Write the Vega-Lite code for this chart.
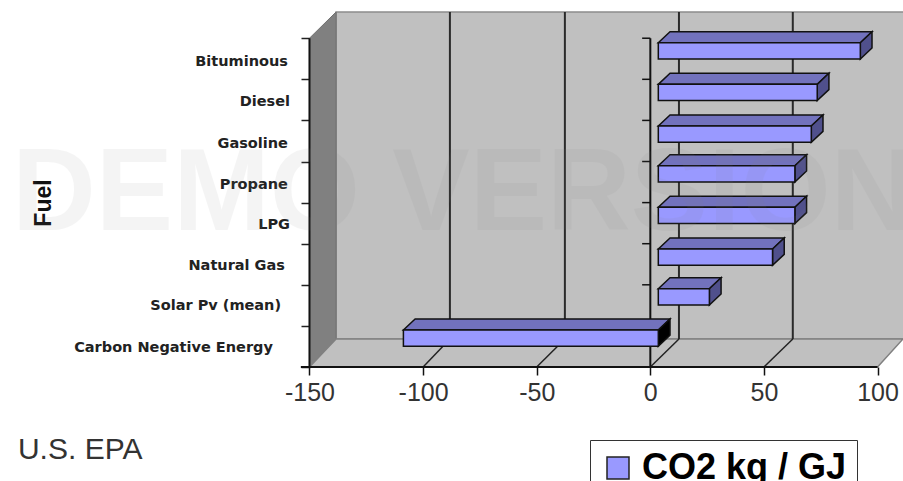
{
"$schema":"https://vega.github.io/schema/vega-lite/v6.json",
"width":903,"height":481,"padding":0,"autosize":{"type":"none"},"background":"white",
"config":{"view":{"stroke":null},"axis":{"grid":false,"title":null}},
"datasets":{
"bars":[
{"fuel":"Bituminous","series":"CO2 kg / GJ","value":88.6,"base":0,"top":7.891,"bottom":7.494},
{"fuel":"Diesel","series":"CO2 kg / GJ","value":69.7,"base":0,"top":6.878,"bottom":6.482},
{"fuel":"Gasoline","series":"CO2 kg / GJ","value":67.1,"base":0,"top":5.864,"bottom":5.467},
{"fuel":"Propane","series":"CO2 kg / GJ","value":59.9,"base":0,"top":4.898,"bottom":4.501},
{"fuel":"LPG","series":"CO2 kg / GJ","value":59.9,"base":0,"top":3.886,"bottom":3.489},
{"fuel":"Natural Gas","series":"CO2 kg / GJ","value":50.1,"base":0,"top":2.871,"bottom":2.474},
{"fuel":"Solar Pv (mean)","series":"CO2 kg / GJ","value":22.4,"base":0,"top":1.905,"bottom":1.509},
{"fuel":"Carbon Negative Energy","series":"CO2 kg / GJ","value":-111.8,"base":0,"top":0.9,"bottom":0.504}
],
"faces":[
{"fuel":"Bituminous","lo":0,"hi":88.6,"top":7.891,"bottom":7.494},
{"fuel":"Bituminous","lo":5.13,"hi":93.73,"top":8.159,"bottom":7.762},
{"fuel":"Diesel","lo":0,"hi":69.7,"top":6.878,"bottom":6.482},
{"fuel":"Diesel","lo":5.13,"hi":74.83,"top":7.146,"bottom":6.75},
{"fuel":"Gasoline","lo":0,"hi":67.1,"top":5.864,"bottom":5.467},
{"fuel":"Gasoline","lo":5.13,"hi":72.23,"top":6.132,"bottom":5.735},
{"fuel":"Propane","lo":0,"hi":59.9,"top":4.898,"bottom":4.501},
{"fuel":"Propane","lo":5.13,"hi":65.03,"top":5.166,"bottom":4.769},
{"fuel":"LPG","lo":0,"hi":59.9,"top":3.886,"bottom":3.489},
{"fuel":"LPG","lo":5.13,"hi":65.03,"top":4.154,"bottom":3.757},
{"fuel":"Natural Gas","lo":0,"hi":50.1,"top":2.871,"bottom":2.474},
{"fuel":"Natural Gas","lo":5.13,"hi":55.23,"top":3.139,"bottom":2.742},
{"fuel":"Solar Pv (mean)","lo":0,"hi":22.4,"top":1.905,"bottom":1.509},
{"fuel":"Solar Pv (mean)","lo":5.13,"hi":27.53,"top":2.173,"bottom":1.777},
{"fuel":"Carbon Negative Energy","lo":-111.8,"hi":0,"top":0.9,"bottom":0.504},
{"fuel":"Carbon Negative Energy","lo":-106.67,"hi":5.13,"top":1.168,"bottom":0.772}
],
"labels":[
{"fuel":"Bituminous","v":-159.5,"level":7.42},
{"fuel":"Diesel","v":-158.6,"level":6.448},
{"fuel":"Gasoline","v":-159.5,"level":5.438},
{"fuel":"Propane","v":-159.5,"level":4.429},
{"fuel":"LPG","v":-158.6,"level":3.455},
{"fuel":"Natural Gas","v":-160.8,"level":2.446},
{"fuel":"Solar Pv (mean)","v":-162.5,"level":1.485},
{"fuel":"Carbon Negative Energy","v":-166.1,"level":0.463}
],
"wall":[{"a":-138.3,"b":112,"top":8.638,"bottom":0.681}],
"side":[{"a":-150,"top":8,"bottom":0},{"a":-138.3,"top":8.638,"bottom":0.681}],
"floor":[{"a":-150,"b":100,"level":0},{"a":-138.3,"b":111.2,"level":0.681}],
"grid":[{"a":-88.2},{"a":-37.6},{"a":12.6},{"a":62.7}],
"floorLines":[
{"tick":-100,"a":-100,"level":0},{"tick":-100,"a":-88.2,"level":0.681},
{"tick":-50,"a":-50,"level":0},{"tick":-50,"a":-37.6,"level":0.681},
{"tick":0,"a":0,"level":0},{"tick":0,"a":12.6,"level":0.681},
{"tick":50,"a":50,"level":0},{"tick":50,"a":62.7,"level":0.681}
],
"zeroTicks":[{"level":0},{"level":1},{"level":2},{"level":3},{"level":4},{"level":5},{"level":6},{"level":7},{"level":8}]
},
"resolve":{"scale":{"x":"independent"}},
"layer":[
{"layer":[
{"data":{"name":"wall"},"mark":{"type":"rect","fill":"#c0c0c0","stroke":"#8c8c8c","strokeWidth":1.5},
 "encoding":{"x":{"field":"a","type":"quantitative","scale":{"domain":[-286.2,111.2],"nice":false,"zero":false},
   "axis":{"values":[-150,-100,-50,0,50,100],"offset":-114,"domain":false,"tickColor":"#111","tickWidth":1.5,"tickSize":8,"labelFont":"Liberation Sans","labelFontSize":25,"labelColor":"#333","labelPadding":5,"labelExpr":"'' + datum.value","labelFlush":false,"labelOverlap":false,"labelBound":false}},
  "x2":{"field":"b"},
  "y":{"field":"top","type":"quantitative","scale":{"domain":[-2.774,8.93],"nice":false,"zero":false},
   "axis":{"values":[0,1,2,3,4,5,6,7,8],"orient":"left","offset":-310,"domain":false,"labels":false,"tickColor":"#222","tickWidth":1.5,"tickSize":9}},
  "y2":{"field":"bottom"}}},
{"data":{"name":"side"},"mark":{"type":"area","fill":"#808080","stroke":"#707070","strokeWidth":1},
 "encoding":{"x":{"field":"a","type":"quantitative","scale":{"domain":[-286.2,111.2],"nice":false,"zero":false}},
  "y":{"field":"top","type":"quantitative","scale":{"domain":[-2.774,8.93],"nice":false,"zero":false}},"y2":{"field":"bottom"}}},
{"data":{"name":"floor"},"mark":{"type":"area","orient":"horizontal","fill":"#c0c0c0","stroke":"#808080","strokeWidth":1.5},
 "encoding":{"y":{"field":"level","type":"quantitative","scale":{"domain":[-2.774,8.93],"nice":false,"zero":false}},
  "x":{"field":"a","type":"quantitative","scale":{"domain":[-286.2,111.2],"nice":false,"zero":false}},"x2":{"field":"b"}}},
{"data":{"name":"grid"},"mark":{"type":"rule","color":"#2a2a2a","strokeWidth":2},
 "encoding":{"x":{"field":"a","type":"quantitative","scale":{"domain":[-286.2,111.2],"nice":false,"zero":false}},
  "y":{"datum":8.638,"type":"quantitative","scale":{"domain":[-2.774,8.93],"nice":false,"zero":false}},"y2":{"datum":0.681}}},
{"data":{"name":"floorLines"},"mark":{"type":"line","color":"#222","strokeWidth":1.5},
 "encoding":{"x":{"field":"a","type":"quantitative","scale":{"domain":[-286.2,111.2],"nice":false,"zero":false}},
  "y":{"field":"level","type":"quantitative","scale":{"domain":[-2.774,8.93],"nice":false,"zero":false}},"detail":{"field":"tick"},"order":{"field":"level"}}},
{"data":{"name":"zeroTicks"},"mark":{"type":"rule","color":"#111","strokeWidth":1.5},
 "encoding":{"x":{"datum":-3.6,"type":"quantitative","scale":{"domain":[-286.2,111.2],"nice":false,"zero":false}},"x2":{"datum":0},
  "y":{"field":"level","type":"quantitative","scale":{"domain":[-2.774,8.93],"nice":false,"zero":false}}}},
{"mark":{"type":"rule","color":"#111","strokeWidth":2},"data":{"values":[{"a":-150},{"a":0}]},
 "encoding":{"x":{"field":"a","type":"quantitative","scale":{"domain":[-286.2,111.2],"nice":false,"zero":false}},
  "y":{"datum":8,"type":"quantitative","scale":{"domain":[-2.774,8.93],"nice":false,"zero":false}},"y2":{"datum":0}}},
{"mark":{"type":"rule","color":"#111","strokeWidth":2},"data":{"values":[{"level":0}]},
 "encoding":{"x":{"datum":-153.8,"type":"quantitative","scale":{"domain":[-286.2,111.2],"nice":false,"zero":false}},"x2":{"datum":100},
  "y":{"field":"level","type":"quantitative","scale":{"domain":[-2.774,8.93],"nice":false,"zero":false}}}},
{"data":{"name":"labels"},"mark":{"type":"text","align":"right","baseline":"middle","font":"DejaVu Sans","fontWeight":"bold","fontSize":14.5,"color":"#222"},
 "encoding":{"x":{"field":"v","type":"quantitative","scale":{"domain":[-286.2,111.2],"nice":false,"zero":false}},
  "y":{"field":"level","type":"quantitative","scale":{"domain":[-2.774,8.93],"nice":false,"zero":false}},"text":{"field":"fuel"}}},
{"data":{"values":[{"t":"Fuel","v":-266.9,"level":3.99}]},"mark":{"type":"text","angle":270,"align":"center","baseline":"middle","font":"Liberation Sans","fontWeight":"bold","fontSize":23,"color":"#111"},
 "encoding":{"x":{"field":"v","type":"quantitative","scale":{"domain":[-286.2,111.2],"nice":false,"zero":false}},
  "y":{"field":"level","type":"quantitative","scale":{"domain":[-2.774,8.93],"nice":false,"zero":false}},"text":{"field":"t"}}},
{"data":{"values":[{"t":"U.S. EPA","v":-278.3,"level":-2.02}]},"mark":{"type":"text","align":"left","baseline":"middle","font":"Liberation Sans","fontSize":30,"color":"#333"},
 "encoding":{"x":{"field":"v","type":"quantitative","scale":{"domain":[-286.2,111.2],"nice":false,"zero":false}},
  "y":{"field":"level","type":"quantitative","scale":{"domain":[-2.774,8.93],"nice":false,"zero":false}},"text":{"field":"t"}}}
]},
{"layer":[
{"data":{"name":"faces"},"mark":{"type":"area","orient":"horizontal","fill":"#7272bd","stroke":"#111","strokeWidth":1.5},
 "encoding":{"y":{"field":"top","type":"quantitative","scale":{"domain":[-2.774,8.93],"nice":false,"zero":false}},
  "x":{"field":"lo","type":"quantitative","scale":{"domain":[-288.73,107.32],"nice":false,"zero":false},"axis":null},"x2":{"field":"hi"},"detail":{"field":"fuel"}}},
{"data":{"name":"faces"},"transform":[{"filter":"datum.fuel !== 'Carbon Negative Energy'"}],"mark":{"type":"area","fill":"#50508c","stroke":"#111","strokeWidth":1.5},
 "encoding":{"x":{"field":"hi","type":"quantitative","scale":{"domain":[-288.73,107.32],"nice":false,"zero":false},"axis":null},
  "y":{"field":"top","type":"quantitative","scale":{"domain":[-2.774,8.93],"nice":false,"zero":false}},"y2":{"field":"bottom"},"detail":{"field":"fuel"}}},
{"data":{"name":"faces"},"transform":[{"filter":"datum.fuel === 'Carbon Negative Energy'"}],"mark":{"type":"area","fill":"#000","stroke":"#111","strokeWidth":1.5},
 "encoding":{"x":{"field":"hi","type":"quantitative","scale":{"domain":[-288.73,107.32],"nice":false,"zero":false},"axis":null},
  "y":{"field":"top","type":"quantitative","scale":{"domain":[-2.774,8.93],"nice":false,"zero":false}},"y2":{"field":"bottom"}}},
{"data":{"name":"bars"},"mark":{"type":"rect","stroke":"#111","strokeWidth":1.5},
 "encoding":{"x":{"field":"value","type":"quantitative","scale":{"domain":[-288.73,107.32],"nice":false,"zero":false},"axis":null},"x2":{"field":"base"},
  "y":{"field":"top","type":"quantitative","scale":{"domain":[-2.774,8.93],"nice":false,"zero":false}},"y2":{"field":"bottom"},
  "fill":{"field":"series","type":"nominal","scale":{"range":["#9999ff"]},
   "legend":{"title":null,"orient":"none","legendX":590,"legendY":440,"padding":10,"fillColor":"white","strokeColor":"#333","symbolType":"square","symbolSize":484,"symbolStrokeColor":"#222","symbolStrokeWidth":1.5,"symbolFillColor":"#9999ff","labelFont":"Liberation Sans","labelFontWeight":"bold","labelFontSize":36,"labelColor":"#000","labelLimit":300,"labelOffset":6}}}}
]},
{"layer":[
{"data":{"values":[{"t":"DEMO VERSION","v":-280.9,"level":4.18}]},"mark":{"type":"text","align":"left","baseline":"middle","font":"Liberation Sans","fontWeight":"bold","fontSize":116,"color":"#808080","opacity":0.08},
 "encoding":{"x":{"field":"v","type":"quantitative","scale":{"domain":[-286.2,111.2],"nice":false,"zero":false},"axis":null},
  "y":{"field":"level","type":"quantitative","scale":{"domain":[-2.774,8.93],"nice":false,"zero":false}},"text":{"field":"t"}}}
]}
]
}
